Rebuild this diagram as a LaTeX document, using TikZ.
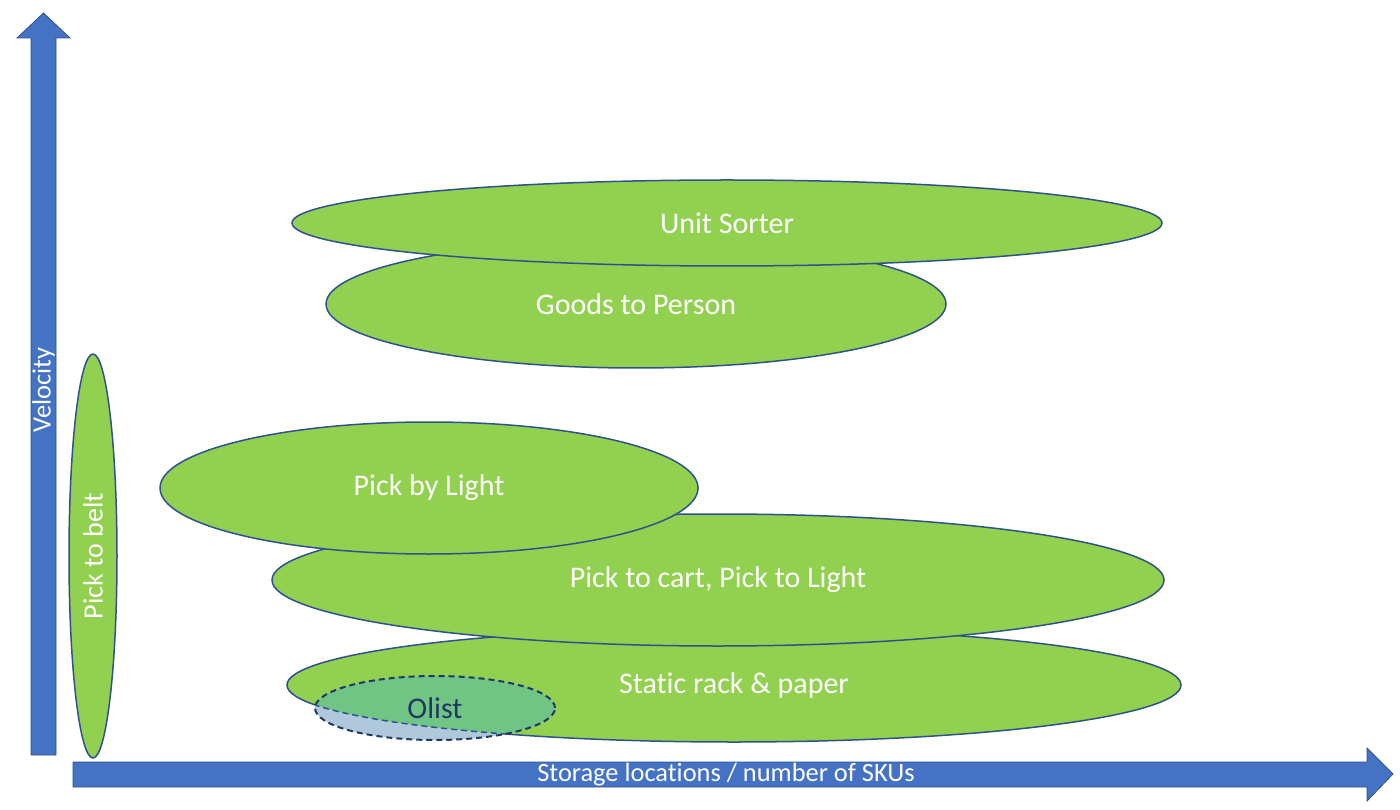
\documentclass[tikz,border=0pt]{standalone}
\usepackage{fontspec}
\setmainfont{Carlito}[Ligatures=NoCommon]
\usepackage{tikz}
\usetikzlibrary{shapes.geometric}
\definecolor{zonegreen}{HTML}{92D050}
\definecolor{zoneline}{HTML}{2F528F}
\definecolor{axisblue}{HTML}{4472C4}
\definecolor{olistlow}{HTML}{B0C8DC}
\definecolor{olisthigh}{HTML}{70C484}
\definecolor{olistline}{HTML}{203864}
\tikzset{
  zone/.style={ellipse, draw=zoneline, line width=0.75pt, fill=zonegreen, text=white,
    inner sep=0pt, font=\fontsize{15}{18}\selectfont},
  axisarrow/.style={fill=axisblue, draw=zoneline, line width=0.4pt},
  axislabel/.style={text=white, inner sep=0pt, font=\fontsize{13.2}{15}\selectfont},
}

\begin{document}
\begin{tikzpicture}[x=0.5pt, y=0.5pt]
        \useasboundingbox (0,0) rectangle (1400,809);

        % axes
        \draw[axisarrow] (31,54) -- (31,771) -- (17,771) -- (43.5,796) -- (70,771) -- (56,771) -- (56,54) -- cycle;
        \draw[axisarrow] (73,47) -- (1367,47) -- (1367,61) -- (1393,35) -- (1367,8) -- (1367,22) -- (73,22) -- cycle;
        \node[axislabel, rotate=90] at (43.5, 419) (velocity) {Velocity};
        \node[axislabel] at (726, 34) (skus) {Storage locations / number of SKUs};

        % picking methods
        \node[zone, minimum width=310pt, minimum height=64pt] at (636, 505) (goods) {Goods to Person};
        \node[zone, minimum width=435pt, minimum height=43pt] at (727, 586) (sorter) {Unit Sorter};
        \node[zone, minimum width=447pt, minimum height=57pt] at (734, 124) (static) {Static rack \& paper};
        \node[zone, minimum width=446pt, minimum height=66pt] at (718, 229) (cart) {Pick to cart, Pick to Light};
        \node[zone, minimum width=269pt, minimum height=66pt] at (429, 321) (light) {Pick by Light};
        \node[zone, fill=olistlow, draw=olistline, line width=1pt, dash pattern=on 3pt off 2pt, text=olistline,
              minimum width=120pt, minimum height=32pt,
              path picture={
                \fill[olisthigh] (static.center) ellipse [x radius=447, y radius=57];
                \draw[zoneline, line width=0.75pt] (static.center) ellipse [x radius=447, y radius=57];
              }] at (435, 101) (olist) {Olist};
        \node[zone, rotate=90, minimum width=202pt, minimum height=24pt, font=\fontsize{14}{16}\selectfont]
              at (93, 253) (belt) {Pick to belt};
\end{tikzpicture}
\end{document}
